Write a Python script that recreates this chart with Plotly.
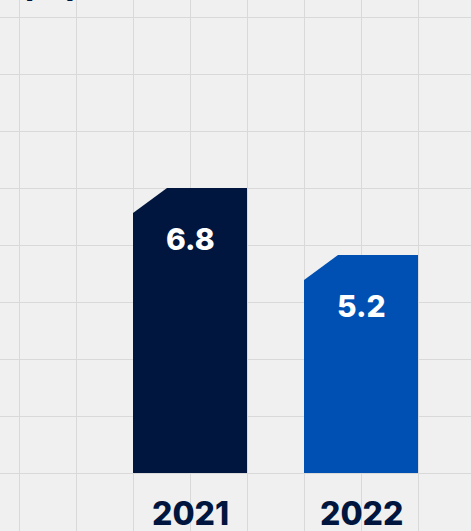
import plotly.graph_objects as go

# ---- data ----
years = ["2021", "2022"]
values = [6.8, 5.2]
bar_colors = ["#00163F", "#0050B4"]
unit_label = "(%)"

# ---- layout constants (pixels) ----
W, H = 471, 531
PX_PER_UNIT = 285 / 6.8          # vertical scale
CELL = 57                        # grid cell size in px
X0_PX = 19                       # first vertical grid line
BASE_PX = 473                    # baseline (value 0) from top
centers = [3, 6]                 # bar centres in grid-cell units
BAR_W = 2                        # bar width in cells
CH_X = 34 / CELL                 # chamfer width (cells)
CH_Y = 25 / PX_PER_UNIT          # chamfer height (value units)

x_range = [-X0_PX / CELL, (W - X0_PX) / CELL]
y_range = [-(H - BASE_PX) / PX_PER_UNIT, BASE_PX / PX_PER_UNIT]
y_dtick = CELL / PX_PER_UNIT

fig = go.Figure()
for c, v, col in zip(centers, values, bar_colors):
    l, r = c - BAR_W / 2, c + BAR_W / 2
    fig.add_trace(go.Scatter(
        x=[l, l, l + CH_X, r, r, l],
        y=[0, v - CH_Y, v, v, 0, 0],
        fill="toself", fillcolor=col, mode="lines",
        line=dict(width=0, color=col), hoverinfo="skip", showlegend=False))
    fig.add_annotation(x=c, y=v, xref="x", yref="y", text=f"{v:.1f}",
                       showarrow=False, yanchor="middle", yshift=-51,
                       font=dict(family="Inter", size=30, color="white", weight=800))

# year labels just above the bottom edge
for c, yr in zip(centers, years):
    fig.add_annotation(x=c, y=0, xref="x", yref="paper", text=yr,
                       showarrow=False, xanchor="center", yanchor="bottom", yshift=-4,
                       font=dict(family="Inter", size=32, color="#00163F", weight=800))

fig.add_annotation(x=49.5 / W, y=1, xref="paper", yref="paper", text=unit_label,
                   showarrow=False, xanchor="center", yanchor="bottom", yshift=-8,
                   font=dict(family="Inter", size=32, color="#00163F", weight=800))

grid_col = "#D9D9D9"
fig.update_layout(
    width=W, height=H, margin=dict(l=0, r=0, t=0, b=0),
    paper_bgcolor="#F0F0F0", plot_bgcolor="#F0F0F0",
    xaxis=dict(range=x_range, tick0=0, dtick=1,
               showgrid=True, gridcolor=grid_col, gridwidth=1,
               zeroline=False, showline=False, ticks="", showticklabels=False,
               automargin=False, fixedrange=True),
    yaxis=dict(range=y_range, tick0=0, dtick=y_dtick, showgrid=True,
               gridcolor=grid_col, gridwidth=1, zeroline=False,
               showticklabels=False, ticks="", automargin=False, fixedrange=True),
)

fig.write_html("out.html")
